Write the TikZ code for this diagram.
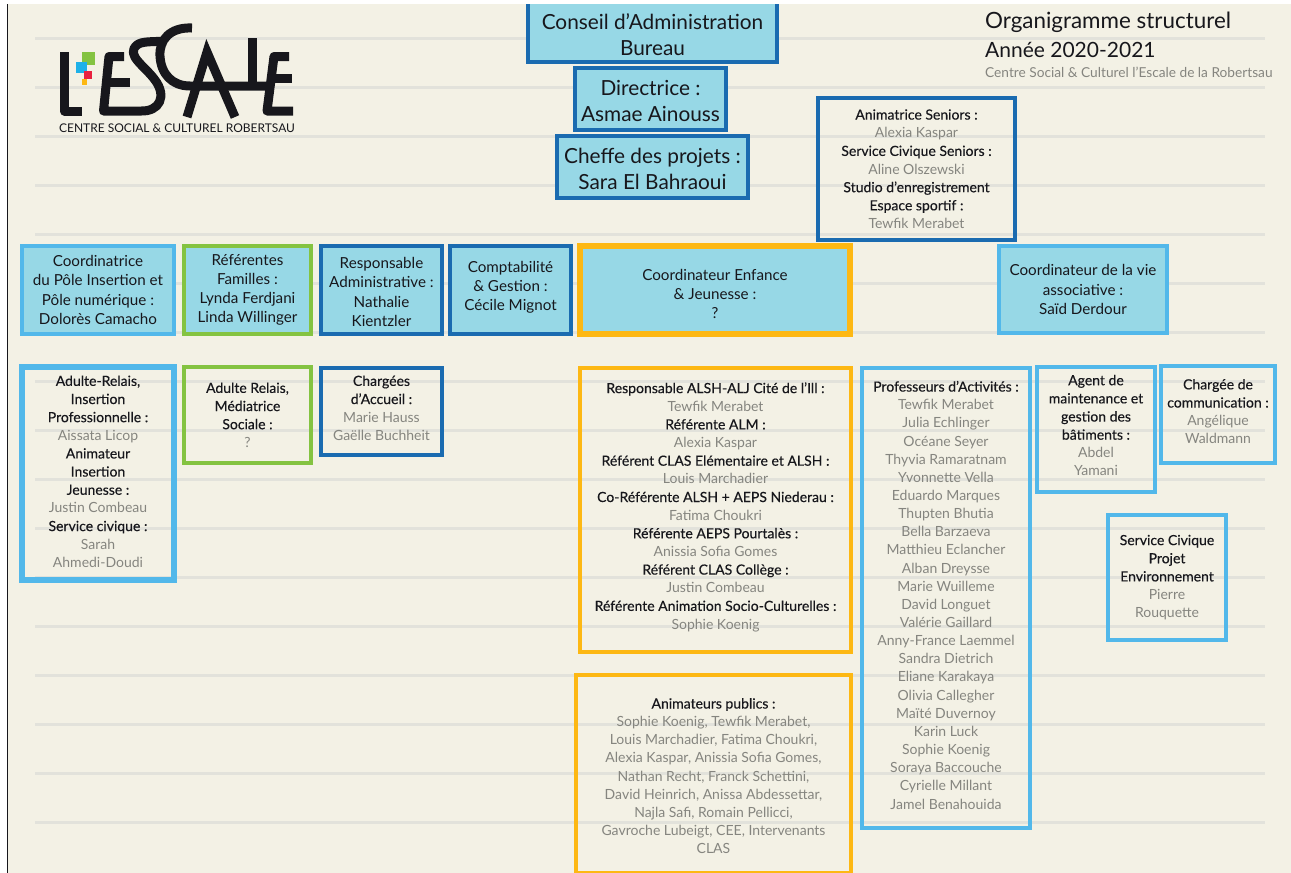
\documentclass[tikz,border=0pt]{standalone}
\usepackage{fontspec}
\setmainfont{Lato}
\newfontfamily\headfont[FakeBold=0.3]{Lato}
\definecolor{paper}{HTML}{F3F1E5}
\definecolor{rule}{HTML}{E2E2DB}
\definecolor{fillblue}{HTML}{97D8E6}
\definecolor{darkblue}{HTML}{1A6BB0}
\definecolor{skyblue}{HTML}{52B8EA}
\definecolor{leaf}{HTML}{84C341}
\definecolor{amber}{HTML}{FDB813}
\definecolor{namegrey}{HTML}{85857F}
\definecolor{ink}{HTML}{17171C}
\definecolor{logoblue}{HTML}{1EB1E8}
\definecolor{logored}{HTML}{E8213F}
\newcommand{\nm}[1]{{\normalfont\fontsize{14}{18.15}\selectfont\color{namegrey}#1}}
\tikzset{
	orgbox/.style={draw,inner sep=0pt,line width=4pt},
	bigtxt/.style={align=center,inner sep=0pt,text=ink,font=\fontsize{20.8}{26}\selectfont},
	midtxt/.style={align=center,inner sep=0pt,text=ink,font=\fontsize{15.2}{19.2}\selectfont},
	smalltxt/.style={align=center,inner sep=0pt,text=ink,font=\headfont\fontsize{14}{18.15}\selectfont},
	logostroke/.style={draw=ink,line width=9pt,line join=round}
}
\begin{document}
\begin{tikzpicture}[x=1pt,y=-1pt]
\useasboundingbox (0,0) rectangle (1291,873);
\fill[paper] (7,4) rectangle (1291,873);
\draw[line width=1pt,ink] (7.5,4) -- (7.5,873);
\foreach \i in {0,...,16}
	\draw[rule,line width=3pt] (35,38+49*\i) -- (1265,38+49*\i);

\draw[logostroke] (64.5,52) -- (64.5,111) -- (82,111);
\draw[logostroke] (124,56.5) -- (109,56.5) -- (103.5,111) -- (140,111) .. controls (160,112) and (167,96) .. (155,80) .. controls (145,66) and (125,55) .. (137,45) .. controls (142,41) and (152,42) .. (166,41);
\draw[logostroke] (107,82) -- (130,82);
\draw[logostroke] (192,28) .. controls (170,27) and (159,40) .. (160,56) .. controls (161,74) and (172,86) .. (190,86) -- (270,86);
\draw[logostroke,line join=miter,miter limit=10] (187,117) -- (207,52) -- (235,117);
\draw[logostroke] (252,38) -- (252,86);
\draw[logostroke] (289,56.5) -- (274,56.5) -- (267,111) -- (293,111);
\draw[logostroke] (272,78) -- (292,78);
\fill[leaf] (82,52) rectangle (95,65);
\fill[logoblue] (76,62) rectangle (87,73);
\fill[logored] (84,71) rectangle (92,79);
\fill[amber] (82,79) rectangle (87,85);
\node[inner sep=0pt,text=ink,font=\fontsize{12}{14}\selectfont] (logotxt) at (177,128) {CENTRE SOCIAL \& CULTUREL ROBERTSAU};

\node[anchor=west,inner sep=0pt,text=ink,font=\fontsize{22.4}{26}\selectfont] (titre) at (985,22) {Organigramme structurel};
\node[anchor=west,inner sep=0pt,text=ink,font=\fontsize{21}{25}\selectfont] (annee) at (985,50) {Année 2020-2021};
\node[anchor=west,inner sep=0pt,text=namegrey,font=\fontsize{13.7}{16}\selectfont] (centre) at (985,72) {Centre Social \& Culturel l’Escale de la Robertsau};

\node[orgbox,draw=darkblue,fill=fillblue,minimum width=249pt,minimum height=62pt] (ca) at (652.5,31) {};
\node[bigtxt] (catxt) at ([yshift=-4pt]ca.center) {Conseil d’Administration\\Bureau};
\node[orgbox,draw=darkblue,fill=fillblue,minimum width=151pt,minimum height=62pt] (dir) at (650.5,99) {};
\node[bigtxt] (dirtxt) at ([yshift=-2pt]dir.center) {Directrice :\\Asmae Ainouss};
\node[orgbox,draw=darkblue,fill=fillblue,minimum width=191pt,minimum height=62pt] (chef) at (652.5,167) {};
\node[bigtxt] (cheftxt) at ([yshift=-1.5pt]chef.center) {Cheffe des projets :\\Sara El Bahraoui};

\node[orgbox,draw=darkblue,minimum width=197pt,minimum height=142pt] (sen) at (916.5,169) {};
\node[smalltxt] (sentxt) at (sen.center) {Animatrice Seniors :\\\nm{Alexia Kaspar}\\Service Civique Seniors :\\\nm{Aline Olszewski}\\Studio d’enregistrement\\Espace sportif :\\\nm{Tewfik Merabet}};

\node[orgbox,draw=skyblue,fill=fillblue,minimum width=152pt,minimum height=88pt] (ins) at (98,290) {};
\node[midtxt] (instxt) at (ins.center) {Coordinatrice\\du Pôle Insertion et\\Pôle numérique :\\Dolorès Camacho};
\node[orgbox,draw=leaf,fill=fillblue,minimum width=127pt,minimum height=88pt] (fam) at (247.5,290) {};
\node[midtxt] (famtxt) at (fam.center) {Référentes\\Familles :\\Lynda Ferdjani\\Linda Willinger};
\node[orgbox,draw=darkblue,fill=fillblue,minimum width=121pt,minimum height=88pt] (adm) at (381.5,290) {};
\node[midtxt] (admtxt) at ([yshift=-2pt]adm.center) {Responsable\\Administrative :\\Nathalie\\Kientzler};
\node[orgbox,draw=darkblue,fill=fillblue,minimum width=121pt,minimum height=88pt] (cpt) at (510.5,290) {};
\node[midtxt] (cpttxt) at ([yshift=3pt]cpt.center) {Comptabilité\\\& Gestion :\\Cécile Mignot};
\node[orgbox,draw=amber,fill=fillblue,line width=6pt,minimum width=270pt,minimum height=88pt] (enf) at (715,290) {};
\node[midtxt] (enftxt) at ([yshift=-4pt]enf.center) {Coordinateur Enfance\\\& Jeunesse :\\?};
\node[orgbox,draw=skyblue,fill=fillblue,minimum width=168pt,minimum height=87pt] (vie) at (1083,289.5) {};
\node[midtxt] (vietxt) at (vie.center) {Coordinateur de la vie\\associative :\\Saïd Derdour};

\node[orgbox,draw=skyblue,line width=6pt,minimum width=152pt,minimum height=213pt] (rel) at (98,473.5) {};
\node[smalltxt] (reltxt) at ([yshift=2pt]rel.center) {Adulte-Relais,\\Insertion\\Professionnelle :\\\nm{Aissata Licop}\\Animateur\\Insertion\\Jeunesse :\\\nm{Justin Combeau}\\Service civique :\\\nm{Sarah}\\\nm{Ahmedi-Doudi}};
\node[orgbox,draw=leaf,minimum width=127pt,minimum height=96pt] (med) at (247.5,415) {};
\node[smalltxt] (medtxt) at (med.center) {Adulte Relais,\\Médiatrice\\Sociale :\\\nm{?}};
\node[orgbox,draw=darkblue,minimum width=121pt,minimum height=87pt] (acc) at (381.5,411.5) {};
\node[smalltxt] (acctxt) at ([yshift=3.5pt]acc.center) {Chargées\\d’Accueil :\\\nm{Marie Hauss}\\\nm{Gaëlle Buchheit}};

\node[orgbox,draw=amber,minimum width=271pt,minimum height=284pt] (alsh) at (715.5,510) {};
\node[smalltxt] (alshtxt) at ([yshift=3pt]alsh.center) {Responsable ALSH-ALJ Cité de l’Ill :\\\nm{Tewfik Merabet}\\Référente ALM :\\\nm{Alexia Kaspar}\\Référent CLAS Elémentaire et ALSH :\\\nm{Louis Marchadier}\\Co-Référente ALSH + AEPS Niederau :\\\nm{Fatima Choukri}\\Référente AEPS Pourtalès :\\\nm{Anissia Sofia Gomes}\\Référent CLAS Collège :\\\nm{Justin Combeau}\\Référente Animation Socio-Culturelles :\\\nm{Sophie Koenig}};
\node[orgbox,draw=amber,minimum width=275pt,minimum height=198pt] (pub) at (713.5,774) {};
\node[smalltxt] (pubtxt) at ([yshift=-2pt]pub.center) {Animateurs publics :\\\nm{Sophie Koenig, Tewfik Merabet,}\\\nm{Louis Marchadier, Fatima Choukri,}\\\nm{Alexia Kaspar, Anissia Sofia Gomes,}\\\nm{Nathan Recht, Franck Schettini,}\\\nm{David Heinrich, Anissa Abdessettar,}\\\nm{Najla Safi, Romain Pellicci,}\\\nm{Gavroche Lubeigt, CEE, Intervenants}\\\nm{CLAS}};
\node[orgbox,draw=skyblue,minimum width=168pt,minimum height=460pt] (prof) at (946,598) {};
\node[smalltxt] (proftxt) at ([yshift=3pt]prof.center) {Professeurs d’Activités :\\\nm{Tewfik Merabet}\\\nm{Julia Echlinger}\\\nm{Océane Seyer}\\\nm{Thyvia Ramaratnam}\\\nm{Yvonnette Vella}\\\nm{Eduardo Marques}\\\nm{Thupten Bhutia}\\\nm{Bella Barzaeva}\\\nm{Matthieu Eclancher}\\\nm{Alban Dreysse}\\\nm{Marie Wuilleme}\\\nm{David Longuet}\\\nm{Valérie Gaillard}\\\nm{Anny-France Laemmel}\\\nm{Sandra Dietrich}\\\nm{Eliane Karakaya}\\\nm{Olivia Callegher}\\\nm{Maïté Duvernoy}\\\nm{Karin Luck}\\\nm{Sophie Koenig}\\\nm{Soraya Baccouche}\\\nm{Cyrielle Millant}\\\nm{Jamel Benahouida}};
\node[orgbox,draw=skyblue,minimum width=118pt,minimum height=125pt] (bat) at (1096,429.5) {};
\node[smalltxt] (battxt) at ([yshift=4pt]bat.center) {Agent de\\maintenance et\\gestion des\\bâtiments :\\\nm{Abdel}\\\nm{Yamani}};
\node[orgbox,draw=skyblue,minimum width=114pt,minimum height=97pt] (com) at (1218,414.5) {};
\node[smalltxt] (comtxt) at ([yshift=3pt]com.center) {Chargée de\\communication :\\\nm{Angélique}\\\nm{Waldmann}};
\node[orgbox,draw=skyblue,minimum width=118pt,minimum height=125pt] (env) at (1167,577.5) {};
\node[smalltxt] (envtxt) at (env.center) {Service Civique\\Projet\\Environnement\\\nm{Pierre}\\\nm{Rouquette}};

\fill[white] (0,0) rectangle (1291,4);
\fill[white] (0,0) rectangle (7,873);
\end{tikzpicture}
\end{document}
